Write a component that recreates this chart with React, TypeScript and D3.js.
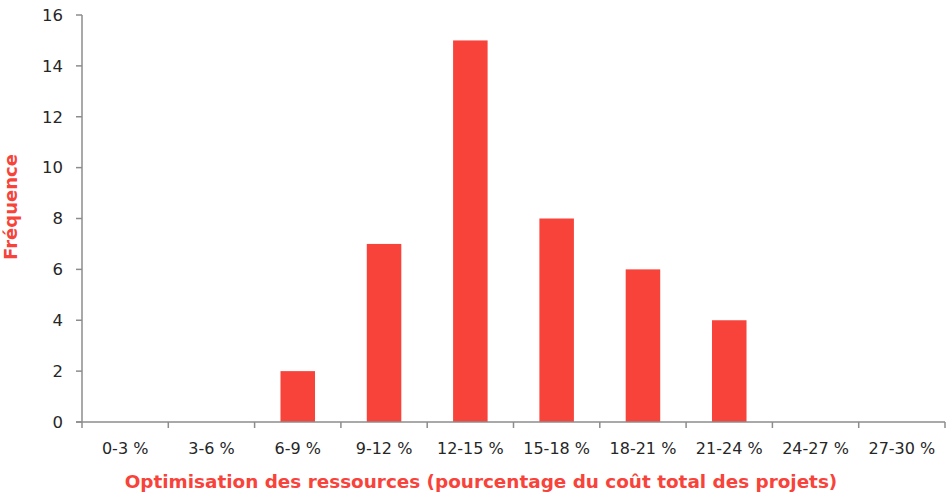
import React from "react";
import * as d3 from "d3";

const categories = ["0-3 %", "3-6 %", "6-9 %", "9-12 %", "12-15 %", "15-18 %", "18-21 %", "21-24 %", "24-27 %", "27-30 %"];
const frequencies = [0, 0, 2, 7, 15, 8, 6, 4, 0, 0];
const yTicks = [0, 2, 4, 6, 8, 10, 12, 14, 16];
const xTitle = "Optimisation des ressources (pourcentage du coût total des projets)";
const yTitle = "Fréquence";

const W = 947;
const H = 495;
const RED = "#F8433B";
const AXIS = "#8c8c8c";
const FONT = "'DejaVu Sans', sans-serif";

export default function App() {
  const left = 82, right = 945, top = 15, bottom = 422;
  const x = d3.scaleBand<string>().domain(categories).range([left, right]);
  const y = d3.scaleLinear().domain([0, 16]).range([bottom, top]);
  const bw = x.bandwidth() * 0.4;
  const edges = categories.map((c) => x(c)!).concat([right]);

  return (
    <svg width={W} height={H} style={{ position: "absolute", left: 0, top: 0, fontFamily: FONT }}>
      {categories.map((c, i) => (
        <rect
          key={c}
          x={x(c)! + x.bandwidth() / 2 - bw / 2}
          y={y(frequencies[i])}
          width={bw}
          height={bottom - y(frequencies[i])}
          fill={RED}
        />
      ))}
      <line x1={left} x2={left} y1={top} y2={bottom} stroke={AXIS} strokeWidth={1.5} />
      <line x1={left - 6} x2={right} y1={bottom} y2={bottom} stroke={AXIS} strokeWidth={1.5} />
      {yTicks.map((t) => (
        <g key={t}>
          <line x1={left - 6} x2={left} y1={y(t)} y2={y(t)} stroke={AXIS} strokeWidth={1.5} />
          <text x={63} y={y(t)} dy="0.35em" textAnchor="end" fontSize={16.5} fill="#262626">
            {t}
          </text>
        </g>
      ))}
      {edges.map((e, i) => (
        <line key={i} x1={e} x2={e} y1={bottom} y2={bottom + 6} stroke={AXIS} strokeWidth={1.5} />
      ))}
      {categories.map((c) => (
        <text key={c} x={x(c)! + x.bandwidth() / 2} y={448} dy="0.35em" textAnchor="middle" fontSize={16} fill="#262626">
          {c}
        </text>
      ))}
      <text x={481} y={482} dy="0.35em" textAnchor="middle" fontSize={18.4} fontWeight="bold" fill={RED}>
        {xTitle}
      </text>
      <text
        transform={`translate(11,${207}) rotate(-90)`}
        dy="0.35em"
        textAnchor="middle"
        fontSize={18}
        fontWeight="bold"
        fill={RED}
      >
        {yTitle}
      </text>
    </svg>
  );
}
